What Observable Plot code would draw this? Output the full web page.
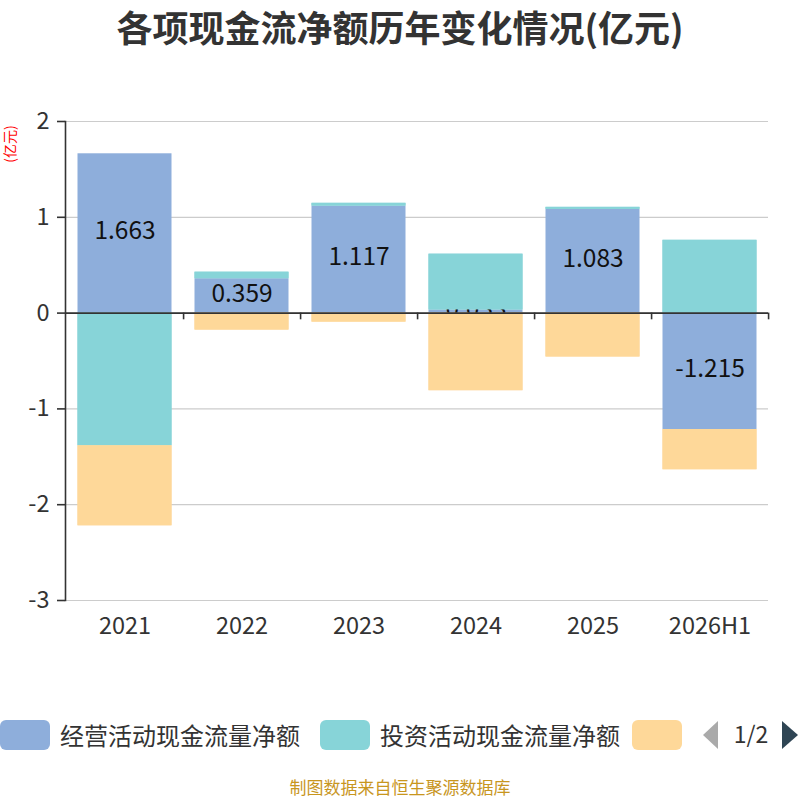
<!DOCTYPE html>
<html>
<head>
<meta charset="utf-8">
<script src="https://cdn.jsdelivr.net/npm/d3@7"></script>
<script src="https://cdn.jsdelivr.net/npm/@observablehq/plot@0.6"></script>
<style>
  body { margin: 0; background: #fff; font-family: "Noto Sans CJK SC", "Noto Sans", sans-serif; }
  #wrap { position: relative; width: 800px; height: 800px; overflow: hidden; }
  #title { position: absolute; top: 1px; left: 0; width: 800px; text-align: center; font-size: 36px; font-weight: bold; color: #333; line-height: 50px; }
  #chart { position: absolute; top: 60px; left: 0; }
  #unit { position: absolute; left: -13px; top: 136px; width: 44px; text-align: center; transform: rotate(-90deg); color: red; font-size: 14px; line-height: 16px; white-space: nowrap; }
  .leg { position: absolute; top: 720px; height: 30px; display: flex; align-items: center; }
  .sw { width: 50px; height: 30px; border-radius: 6px; }
  .lt { font-size: 24px; color: #333; margin-left: 10px; line-height: 30px; white-space: nowrap; }
  #footer { position: absolute; top: 776px; left: 0; width: 800px; text-align: center; font-size: 17px; line-height: 22px; color: #c8961e; }
</style>
</head>
<body>
<div id="wrap">
  <div id="title"></div>
  <div id="chart"></div>
  <div id="unit"></div>
  <div id="legend"></div>
  <div id="footer"></div>
</div>
<script>
const categories = ["2021", "2022", "2023", "2024", "2025", "2026H1"];
const seriesNames = ["经营活动现金流量净额", "投资活动现金流量净额", "筹资活动现金流量净额"];
const seriesColors = ["#8eaedb", "#87d4d8", "#fed899"];
const operating = [1.663, 0.359, 1.117, 0.033, 1.083, -1.215];
const investing = [-1.385, 0.068, 0.029, 0.582, 0.021, 0.76];
const financing = [-0.835, -0.177, -0.094, -0.81, -0.458, -0.42];
const yTicks = [-3, -2, -1, 0, 1, 2];
const titleText = "各项现金流净额历年变化情况(亿元)";
const unitText = "(亿元)";
const footerText = "制图数据来自恒生聚源数据库";

document.getElementById("title").textContent = titleText;
document.getElementById("unit").textContent = unitText;
document.getElementById("footer").textContent = footerText;

const seriesValues = [operating, investing, financing];
const data = [];
seriesValues.forEach((vals, si) => {
  vals.forEach((v, i) => data.push({cat: categories[i], series: seriesNames[si], value: v}));
});
const opData = categories.map((c, i) => ({cat: c, value: operating[i]}));
const colorOf = Object.fromEntries(seriesNames.map((n, i) => [n, seriesColors[i]]));

const W = 800, H = 600, mL = 65, mR = 32;
const step = (W - mL - mR) / categories.length;

const chart = Plot.plot({
  width: W,
  height: H,
  marginLeft: mL,
  marginRight: mR,
  marginTop: 61,
  marginBottom: 60,
  style: {fontFamily: "'Noto Sans CJK SC', 'Noto Sans', sans-serif", color: "#333", background: "#fff"},
  x: {domain: categories, padding: 0, label: null},
  y: {domain: [-3, 2], label: null},
  color: {domain: seriesNames, range: seriesColors},
  marks: [
    Plot.gridY(yTicks, {stroke: "#ccc", strokeOpacity: 1, strokeWidth: 1.2}),
    Plot.barY(data, {x: "cat", y: "value", fill: "series", insetLeft: 11.5, insetRight: 11.5, order: seriesNames}),
    Plot.text(opData, {x: "cat", y: d => d.value / 2, dy: -2, text: d => d.value.toFixed(3), fill: "#111", fontSize: 24.5}),
    Plot.barY(data, {x: "cat", y: "value", fill: d => d.series === seriesNames[0] ? "none" : colorOf[d.series], insetLeft: 11.5, insetRight: 11.5, order: seriesNames}),
    Plot.ruleY([0], {stroke: "#333", strokeWidth: 1.6}),
    Plot.ruleX(categories, {x: d => d, dx: step / 2, y1: 0, y2: -0.07, stroke: "#333", strokeWidth: 1.6}),
    Plot.frame({anchor: "left", stroke: "#333", strokeWidth: 1.6}),
    Plot.axisY({ticks: yTicks, tickFormat: d => String(d), tickSize: 8, tickPadding: 8, fontSize: 23.5, stroke: "#333", strokeWidth: 1.6, label: null}),
    Plot.axisX({tickSize: 0, tickPadding: 17, fontSize: 23.5, label: null})
  ]
});
document.getElementById("chart").appendChild(chart);

// Legend (paged, first page)
const legend = document.getElementById("legend");
const legLefts = [0, 320, 632];
seriesNames.forEach((name, i) => {
  const item = document.createElement("div");
  item.className = "leg";
  item.style.left = legLefts[i] + "px";
  const sw = document.createElement("div");
  sw.className = "sw";
  sw.style.background = seriesColors[i];
  item.appendChild(sw);
  if (i < 2) {
    const t = document.createElement("span");
    t.className = "lt";
    t.textContent = name;
    item.appendChild(t);
  }
  legend.appendChild(item);
});
const clip = document.createElement("div");
clip.style.cssText = "position:absolute;top:715px;left:682px;width:118px;height:40px;background:#fff;";
legend.appendChild(clip);
const pager = document.createElement("div");
pager.style.cssText = "position:absolute;top:718px;left:700px;width:100px;height:34px;";
pager.innerHTML = '<svg width="100" height="34" style="overflow:visible"><polygon points="18,3 18,31 3,17" fill="#aaa"/><text x="51" y="25" text-anchor="middle" font-size="23" fill="#333" font-family="Noto Sans CJK SC, sans-serif">1/2</text><polygon points="82,3 82,31 98,17" fill="#2f4554"/></svg>';
legend.appendChild(pager);
</script>
</body>
</html>
